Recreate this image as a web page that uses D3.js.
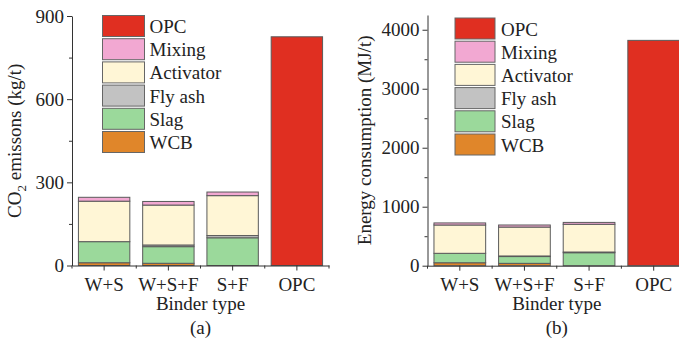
<!DOCTYPE html>
<html>
<head>
<meta charset="utf-8">
<script src="https://cdn.jsdelivr.net/npm/d3@7"></script>
<style>
  body { margin: 0; background: #fff; }
  svg { display: block; font-family: "Liberation Serif", "Times New Roman", serif; }
</style>
</head>
<body>
<svg id="chart" width="679" height="352"></svg>
<script>
// binder types and stacked components (bottom -> top)
const binders = ["W+S", "W+S+F", "S+F", "OPC"];
const components = ["WCB", "Slag", "Fly ash", "Activator", "Mixing", "OPC"];
const colors = ["#e0862a", "#9bd99b", "#c2c2c2", "#fff6d6", "#f2a8d2", "#e02f21"];

// (a) CO2 emissions, kg/t
const co2WCB = [10, 8, 0, 0];
const co2Slag = [76, 60, 100, 0];
const co2FlyAsh = [0, 6, 8, 0];
const co2Activator = [146, 144, 144, 0];
const co2Mixing = [14, 13, 13, 0];
const co2OPC = [0, 0, 0, 825];

// (b) energy consumption, MJ/t
const enWCB = [50, 40, 0, 0];
const enSlag = [160, 115, 220, 0];
const enFlyAsh = [0, 10, 12, 0];
const enActivator = [480, 490, 470, 0];
const enMixing = [35, 35, 32, 0];
const enOPC = [0, 0, 0, 3820];

const yTicksA = [0, 300, 600, 900];
const yTicksB = [0, 1000, 2000, 3000, 4000];

function rows(series) {
  return binders.map((b, i) => {
    const r = { binder: b };
    components.forEach((c, k) => r[c] = series[k][i]);
    return r;
  });
}

const svg = d3.select("#chart");
const color = d3.scaleOrdinal(components, colors);

function drawPanel(p) {
  const g = svg.append("g");
  const x = d3.scaleBand().domain(binders).range([p.x0, p.x1]).paddingInner(0.2).paddingOuter(0.1);
  const y = d3.scaleLinear().domain([0, p.ymax]).range([p.y0, p.y1]);

  const stacked = d3.stack().keys(components)(rows(p.series));

  g.append("g").selectAll("g")
    .data(stacked)
    .join("g")
    .attr("fill", d => color(d.key))
    .selectAll("rect")
    .data(d => d.filter(s => s[1] - s[0] > 0))
    .join("rect")
    .attr("x", d => x(d.data.binder))
    .attr("width", x.bandwidth())
    .attr("y", d => y(d[1]))
    .attr("height", d => y(d[0]) - y(d[1]))
    .attr("stroke", "#5a5a5a")
    .attr("stroke-width", 1);

  // y axis with minor ticks
  const step = p.yticks[1] - p.yticks[0];
  const minor = d3.range(step / 2, p.ymax, step);
  g.append("g")
    .attr("transform", `translate(${p.x0},0)`)
    .call(d3.axisLeft(y).tickValues(minor).tickSize(3).tickFormat(""))
    .call(a => a.select(".domain").remove());
  const ya = g.append("g")
    .attr("transform", `translate(${p.x0},0)`)
    .call(d3.axisLeft(y).tickValues(p.yticks).tickSize(5).tickPadding(3)
      .tickSizeOuter(0).tickFormat(d3.format("d")));

  // x axis: major at centers, minor at band edges
  const edges = d3.range(binders.length + 1).map(i => p.x0 + i * x.step());
  g.append("g").selectAll("line")
    .data(edges)
    .join("line")
    .attr("x1", d => d).attr("x2", d => d)
    .attr("y1", p.y0).attr("y2", p.y0 + 3)
    .attr("stroke", "#333");
  const xa = g.append("g")
    .attr("transform", `translate(0,${p.y0})`)
    .call(d3.axisBottom(x).tickSize(5).tickPadding(7).tickSizeOuter(0));

  [ya, xa].forEach(a => {
    a.attr("font-family", null).attr("font-size", null);
    a.selectAll("text").attr("font-size", 19).attr("fill", "#222");
    a.selectAll("line, path").attr("stroke", "#333");
  });
  g.selectAll(".tick line").attr("stroke", "#333");

  const cx = (p.x0 + p.x1) / 2;
  g.append("text")
    .attr("x", cx).attr("y", 310)
    .attr("text-anchor", "middle").attr("font-size", 19).attr("fill", "#222")
    .text("Binder type");
  g.append("text")
    .attr("x", cx).attr("y", 334)
    .attr("text-anchor", "middle").attr("font-size", 19).attr("fill", "#222")
    .text(p.tag);

  const yl = g.append("text")
    .attr("transform", `translate(${p.labelX},${(p.y0 + p.y1) / 2}) rotate(-90)`)
    .attr("text-anchor", "middle").attr("font-size", 19).attr("fill", "#222");
  p.ylabel(yl);

  // legend, top entry first
  const leg = g.append("g").selectAll("g")
    .data(components.slice().reverse())
    .join("g")
    .attr("transform", (d, i) => `translate(${p.legX},${p.legY + i * 23.2})`);
  leg.append("rect")
    .attr("width", p.legW).attr("height", 21)
    .attr("fill", d => color(d))
    .attr("stroke", "#666").attr("stroke-width", 1);
  leg.append("text")
    .attr("x", p.legW + p.legGap).attr("y", 17.5)
    .attr("font-size", 19).attr("fill", "#222")
    .text(d => d);
}

drawPanel({
  series: [co2WCB, co2Slag, co2FlyAsh, co2Activator, co2Mixing, co2OPC],
  x0: 72, x1: 329, y0: 265.5, y1: 16, ymax: 900, yticks: yTicksA,
  labelX: 21, tag: "(a)",
  legX: 102.5, legY: 15.5, legW: 42, legGap: 5,
  ylabel: t => {
    t.append("tspan").text("CO");
    t.append("tspan").attr("font-size", 13).attr("dy", 5).text("2");
    t.append("tspan").attr("dy", -5).text(" emissons (kg/t)");
  }
});

drawPanel({
  series: [enWCB, enSlag, enFlyAsh, enActivator, enMixing, enOPC],
  x0: 427.5, x1: 686, y0: 265.7, y1: 15, ymax: 4250, yticks: yTicksB,
  labelX: 371, tag: "(b)",
  legX: 455, legY: 18, legW: 40, legGap: 6,
  ylabel: t => t.text("Energy consumption (MJ/t)")
});
</script>
</body>
</html>
